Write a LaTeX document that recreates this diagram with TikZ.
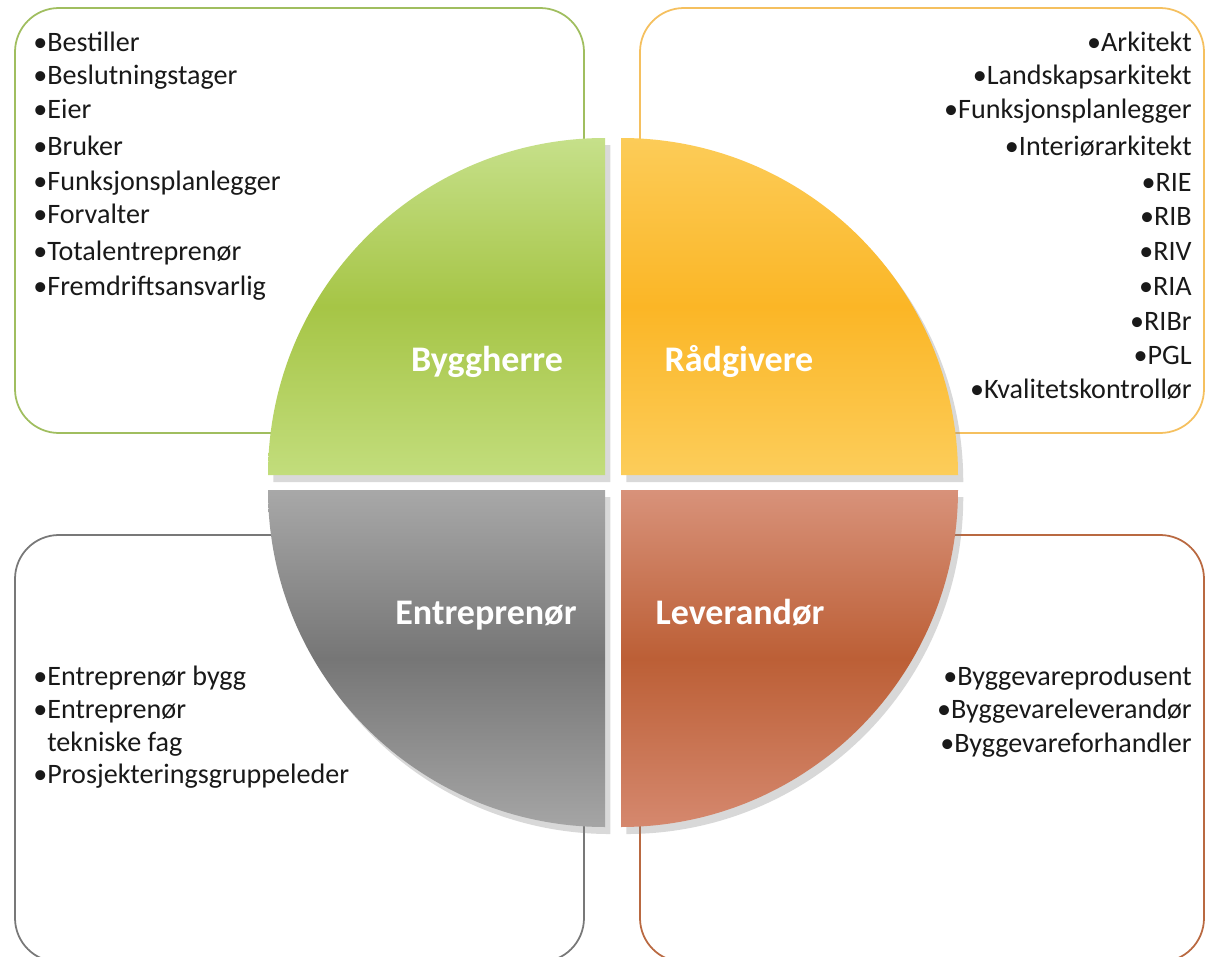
\documentclass[tikz,border=0pt]{standalone}
\usepackage{fontspec}
\setmainfont{Carlito}
\usetikzlibrary{shadows}
\definecolor{bhline}{RGB}{160,190,95}
\definecolor{rgline}{RGB}{245,192,95}
\definecolor{enline}{RGB}{120,120,120}
\definecolor{lvline}{RGB}{185,105,65}
\definecolor{bhtop}{RGB}{198,224,138}
\definecolor{bhmid}{RGB}{166,197,70}
\definecolor{bhbot}{RGB}{194,221,124}
\definecolor{rgtop}{RGB}{252,204,88}
\definecolor{rgmid}{RGB}{251,182,38}
\definecolor{rgbot}{RGB}{252,205,90}
\definecolor{entop}{RGB}{168,168,168}
\definecolor{enmid}{RGB}{118,118,118}
\definecolor{enbot}{RGB}{165,165,165}
\definecolor{lvtop}{RGB}{216,146,122}
\definecolor{lvmid}{RGB}{188,95,54}
\definecolor{lvbot}{RGB}{213,136,110}
\tikzset{
	listbox/.style={line width=1pt, rounded corners=25pt, fill=white},
	quad/.style={drop shadow={opacity=0.3, shadow xshift=3pt, shadow yshift=-4pt}},
	quadlabel/.style={text=white, font=\fontsize{20.5}{24}\selectfont\bfseries, inner sep=0pt, anchor=base},
	item/.style={font=\fontsize{16}{19}\selectfont, inner sep=0pt, text=black!90}
}
\begin{document}
\begin{tikzpicture}[x=0.02cm,y=-0.02cm]
	\useasboundingbox (0,0) rectangle (1205,957);
	\clip (0,0) rectangle (1205,957);

	\draw[listbox, draw=bhline] (15,8) rectangle (584,433);
	\draw[listbox, draw=rgline] (640,8) rectangle (1204,433);
	\draw[listbox, draw=enline] (15,535) rectangle (584,962);
	\draw[listbox, draw=lvline] (640,535) rectangle (1204,962);

	\path[quad, top color=bhtop, bottom color=bhbot, middle color=bhmid] (605,475) -- (268,475) arc[start angle=180, end angle=270, radius=337] -- cycle;
	\path[quad, top color=rgtop, bottom color=rgbot, middle color=rgmid] (621,475) -- (958,475) arc[start angle=0, end angle=-90, radius=337] -- cycle;
	\path[quad, top color=entop, bottom color=enbot, middle color=enmid] (605,490) -- (268,490) arc[start angle=180, end angle=90, radius=337] -- cycle;
	\path[quad, top color=lvtop, bottom color=lvbot, middle color=lvmid] (621,490) -- (958,490) arc[start angle=0, end angle=90, radius=337] -- cycle;

	\node[quadlabel] (byggherre) at (487,371) {Byggherre};
	\node[quadlabel] (raadgivere) at (739,371) {Rådgivere};
	\node[quadlabel] (entreprenor) at (486,624) {Entreprenør};
	\node[quadlabel] (leverandor) at (740,624) {Leverandør};

	\foreach \y/\t [count=\i] in {42/Bestiller,75/Beslutningstager,109/Eier,146/Bruker,181/Funksjonsplanlegger,214/Forvalter,251/Totalentreprenør,286/Fremdriftsansvarlig}
		\node[item, anchor=base west] (bh\i) at (33,\y+9) {•\t};

	\foreach \y/\t [count=\i] in {42/Arkitekt,75/Landskapsarkitekt,109/Funksjonsplanlegger,146/Interiørarkitekt,182/RIE,216/RIB,251/RIV,286/RIA,321/RIBr,355/PGL,389/Kvalitetskontrollør}
		\node[item, anchor=base east] (rg\i) at (1192,\y+9) {•\t};

	\foreach \y/\t [count=\i] in {676/•Entreprenør bygg,709/•Entreprenør,742/\phantom{•}tekniske fag,774/•Prosjekteringsgruppeleder}
		\node[item, anchor=base west] (en\i) at (33,\y+9) {\t};

	\foreach \y/\t [count=\i] in {676/Byggevareprodusent,709/Byggevareleverandør,743/Byggevareforhandler}
		\node[item, anchor=base east] (lv\i) at (1192,\y+9) {•\t};
\end{tikzpicture}
\end{document}
